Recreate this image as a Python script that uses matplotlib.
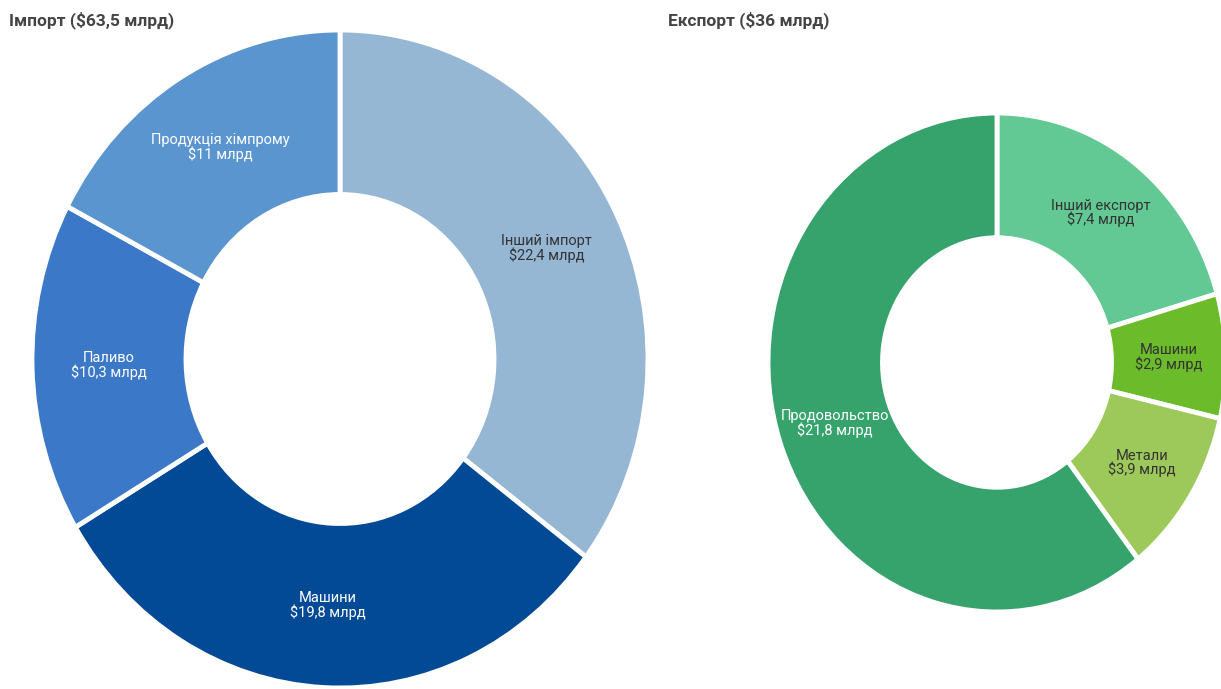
import matplotlib.pyplot as plt

plt.rcParams['font.family'] = ['Roboto', 'DejaVu Sans']

# Імпорт
imp_labels = ['Інший імпорт', 'Машини', 'Паливо', 'Продукція хімпрому']
imp_values = [22.4, 19.8, 10.3, 11.0]
imp_colors = ['#95b7d3', '#034a96', '#3b78c8', '#5b95d0']
imp_text = ['#333333', 'white', 'white', 'white']

# Експорт
exp_labels = ['Інший експорт', 'Машини', 'Метали', 'Продовольство']
exp_values = [7.4, 2.9, 3.9, 21.8]
exp_colors = ['#62c894', '#6bbb2a', '#9dc95a', '#35a36b']
exp_text = ['#333333', '#333333', '#333333', 'white']

W, H = 1221, 689


def fmt(v):
    s = f"{v:.1f}".rstrip('0').rstrip('.')
    return s.replace('.', ',')


def donut(ax, labels, values, colors, text_colors):
    names = [f"{l}\n${fmt(v)} млрд" for l, v in zip(labels, values)]
    wedges, texts = ax.pie(values, labels=names, colors=colors, startangle=90,
                           counterclock=False, labeldistance=0.75,
                           wedgeprops=dict(width=0.5, edgecolor='white', linewidth=3.5),
                           textprops=dict(fontsize=10.5))
    for t, c in zip(texts, text_colors):
        t.set_ha('center')
        t.set_va('center')
        t.set_color(c)
        t.set_linespacing(0.95)
    ax.set_aspect('auto')
    ax.set_xlim(-1, 1)
    ax.set_ylim(-1, 1)
    ax.axis('off')


fig = plt.figure(figsize=(W / 100, H / 100), dpi=100)

ax1 = fig.add_axes([32 / W, 1 / H, 616 / W, 658 / H])
donut(ax1, imp_labels, imp_values, imp_colors, imp_text)

ax2 = fig.add_axes([768 / W, 77 / H, 458 / W, 499 / H])
donut(ax2, exp_labels, exp_values, exp_colors, exp_text)

fig.text(9 / W, 1 - 20 / H, 'Імпорт ($63,5 млрд)', fontsize=12.5, fontweight='bold',
         color='#444444', va='center', ha='left')
fig.text(668 / W, 1 - 20 / H, 'Експорт ($36 млрд)', fontsize=12.5, fontweight='bold',
         color='#444444', va='center', ha='left')

fig.savefig('out.png', dpi=100)
